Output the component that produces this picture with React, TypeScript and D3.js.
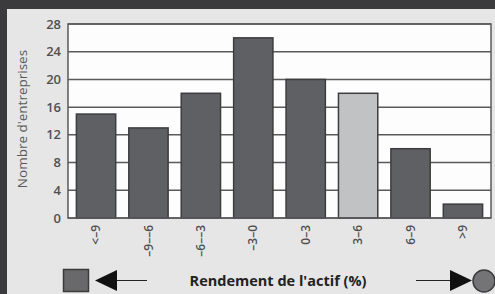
import React from "react";
import * as d3 from "d3";

const categories = ["<–9", "–9––6", "–6––3", "–3–0", "0–3", "3–6", "6–9", ">9"];
const counts = [15, 13, 18, 26, 20, 18, 10, 2];
const highlighted = ["3–6"];
const yTicks = [0, 4, 8, 12, 16, 20, 24, 28];

const W = 495;
const H = 294;
const plot = { left: 68, right: 491, top: 24, bottom: 218 };

export default function App() {
  const x = d3
    .scaleBand<string>()
    .domain(categories)
    .range([plot.left, plot.right])
    .paddingInner(0.25)
    .paddingOuter(0.16);
  const y = d3.scaleLinear().domain([0, 28]).range([plot.bottom, plot.top]);
  const font = "'Open Sans', 'DejaVu Sans', sans-serif";

  return (
    <svg
      width={W}
      height={H}
      style={{ position: "absolute", left: 0, top: 0 }}
      xmlns="http://www.w3.org/2000/svg"
    >
      <rect x={0} y={0} width={W} height={H} fill="#3b3b3d" />
      <rect x={7} y={9} width={W - 7} height={H - 9} fill="#e6e6e6" />
      <rect
        x={plot.left}
        y={plot.top}
        width={plot.right - plot.left}
        height={plot.bottom - plot.top}
        fill="#fdfdfd"
      />
      {yTicks.map((t) => (
        <g key={t}>
          <line
            x1={plot.left}
            x2={plot.right}
            y1={y(t)}
            y2={y(t)}
            stroke="#5a5a5c"
            strokeWidth={1.5}
          />
          <text
            x={61}
            y={y(t)}
            dy="0.35em"
            textAnchor="end"
            fontFamily={font}
            fontWeight={600}
            fontSize={13}
            fill="#505050"
          >
            {t}
          </text>
        </g>
      ))}
      {categories.map((c, i) => (
        <rect
          key={c}
          x={x(c)}
          y={y(counts[i])}
          width={x.bandwidth()}
          height={y(0) - y(counts[i])}
          fill={highlighted.includes(c) ? "#c1c2c4" : "#5f6064"}
          stroke="#3d3d3f"
          strokeWidth={1.5}
        />
      ))}
      <rect
        x={plot.left}
        y={plot.top}
        width={plot.right - plot.left}
        height={plot.bottom - plot.top}
        fill="none"
        stroke="#5a5a5c"
        strokeWidth={1.5}
      />
      {categories.map((c) => (
        <text
          key={c}
          transform={`translate(${(x(c) as number) + x.bandwidth() / 2},${225}) rotate(-90)`}
          dy="0.35em"
          textAnchor="end"
          fontFamily={font}
          fontWeight={600}
          fontSize={12}
          fill="#505050"
        >
          {c}
        </text>
      ))}
      <text
        transform={`translate(22,${119}) rotate(-90)`}
        dy="0.35em"
        textAnchor="middle"
        fontFamily={font}
        fontSize={13.5}
        fill="#5a5a5a"
      >
        Nombre d'entreprises
      </text>
      {/* bottom legend */}
      <rect x={63.5} y={269.5} width={25} height={22} fill="#69696b" stroke="#3b3b3b" strokeWidth={1.5} />
      <path d="M95,280.5 L117,270 L117,291 Z" fill="#111" />
      <line x1={117} x2={147} y1={280.5} y2={280.5} stroke="#222" strokeWidth={1} />
      <text
        x={278}
        y={281}
        dy="0.35em"
        textAnchor="middle"
        fontFamily={font}
        fontWeight={700}
        fontSize={14.5}
        fill="#222"
      >
        Rendement de l'actif (%)
      </text>
      <line x1={416} x2={450} y1={280.5} y2={280.5} stroke="#222" strokeWidth={1} />
      <path d="M472,280.5 L450,270 L450,291 Z" fill="#111" />
      <circle cx={484} cy={281} r={11} fill="#747476" stroke="#3b3b3b" strokeWidth={1.5} />
    </svg>
  );
}
